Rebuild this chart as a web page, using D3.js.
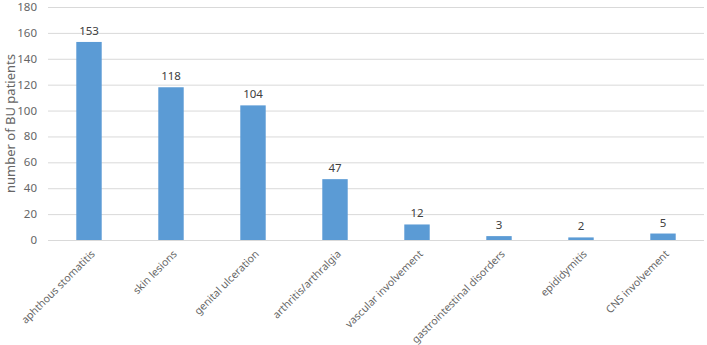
<!DOCTYPE html>
<html><head><meta charset="utf-8">
<script src="https://cdn.jsdelivr.net/npm/d3@7"></script>
<style>body{margin:0;background:#fff}svg{display:block}text{font-family:"Noto Sans","Open Sans",sans-serif}</style>
</head><body>
<svg id="c" width="707" height="345"></svg>
<script>
const categories = ["aphthous stomatitis","skin lesions","genital ulceration","arthritis/arthralgia","vascular involvement","gastrointestinal disorders","epididymitis","CNS involvement"];
const values = [153,118,104,47,12,3,2,5];
const yTicks = [0,20,40,60,80,100,120,140,160,180];

(function(){
const svg = d3.select("#c");
const mLeft = 48, mRight = 704, mTop = 7, mBottom = 240;
const x = d3.scaleBand().domain(categories).range([mLeft, mRight]).paddingInner(0.69).paddingOuter(0.345);
const y = d3.scaleLinear().domain([0,180]).range([mBottom, mTop]);

svg.append("g").selectAll("line").data(yTicks).join("line")
  .attr("x1", mLeft).attr("x2", mRight)
  .attr("y1", d=>y(d)+0.5).attr("y2", d=>y(d)+0.5)
  .attr("stroke", "#d9d9d9").attr("stroke-width", 1);

svg.append("g").selectAll("text").data(yTicks).join("text")
  .attr("x", 37).attr("y", d=>y(d)).attr("dy","0.35em")
  .attr("text-anchor","end").attr("font-size", 11.5).attr("fill","#666").text(d=>d);

svg.append("g").selectAll("rect").data(values).join("rect")
  .attr("x",(d,i)=>x(categories[i])).attr("width", x.bandwidth())
  .attr("y", d=>y(d)).attr("height", d=>y(0)-y(d))
  .attr("fill","#5b9bd5");

svg.append("g").selectAll("text").data(values).join("text")
  .attr("x",(d,i)=>x(categories[i])+x.bandwidth()/2).attr("y", d=>y(d)-7)
  .attr("text-anchor","middle").attr("font-size",11.5).attr("fill","#404040").text(d=>d);

svg.append("g").selectAll("text").data(categories).join("text")
  .attr("transform", d=>`translate(${x(d)+x.bandwidth()/2+4},${mBottom+12}) rotate(-45)`)
  .attr("text-anchor","end").attr("dy","0.35em").attr("font-size",10.5).attr("fill","#666").text(d=>d);

svg.append("text").attr("transform",`translate(10,${(mTop+mBottom)/2}) rotate(-90)`)
  .attr("text-anchor","middle").attr("dy","0.35em").attr("font-size",13).attr("fill","#666").text("number of BU patients");
})();
</script>
</body></html>
